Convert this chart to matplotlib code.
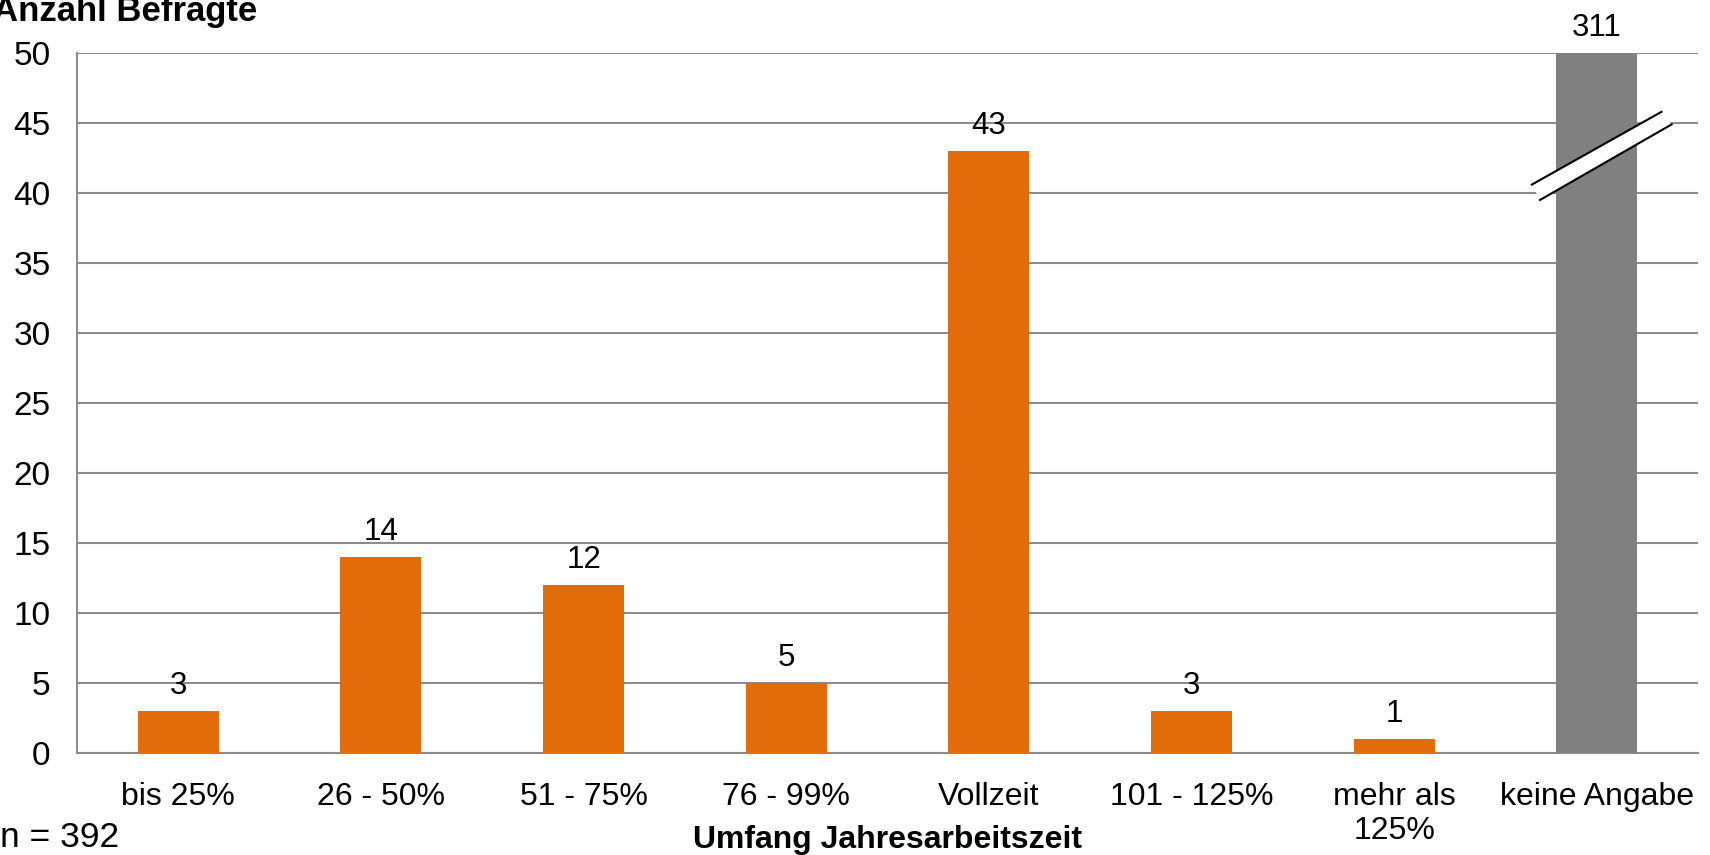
import matplotlib
matplotlib.use("Agg")
import matplotlib.pyplot as plt
import numpy as np

# data
categories = ["bis 25%", "26 - 50%", "51 - 75%", "76 - 99%", "Vollzeit",
              "101 - 125%", "mehr als\n125%", "keine Angabe"]
counts = [3, 14, 12, 5, 43, 3, 1, 311]
colors = ["#E36C0A"] * 7 + ["#808080"]

YMAX = 50

plt.rcParams['font.family'] = ['Liberation Sans', 'DejaVu Sans']

fig = plt.figure(figsize=(17.1, 8.55), dpi=100)
ax = fig.add_axes([77 / 1710, 1 - 753 / 855, (1698 - 77) / 1710, (753 - 53) / 855])

x = np.arange(len(categories))
shown = [min(c, YMAX) for c in counts]
ax.bar(x, shown, width=0.4, color=colors, zorder=3)

#value labels above the bars
for xi, c, s in zip(x, counts, shown):
    ax.annotate(str(c), (xi, s), xytext=(0, 7), textcoords="offset points",
                ha="center", va="bottom", fontsize=22.5, annotation_clip=False)

#break marks on the clipped bar
last = len(categories) - 1
ax.fill([last - 0.32, last + 0.32, last + 0.37, last - 0.28],
        [40.6, 45.8, 44.9, 39.5], color="white", zorder=4, lw=0, clip_on=False)
ax.plot([last - 0.32, last + 0.32], [40.6, 45.8], color="black", lw=1.5, zorder=5, clip_on=False)
ax.plot([last - 0.28, last + 0.37], [39.5, 44.9], color="black", lw=1.5, zorder=5, clip_on=False)

ax.set_xlim(-0.5, len(categories) - 0.5)
ax.set_ylim(0, YMAX)
ax.set_yticks(range(0, 51, 5))
ax.set_xticks(x)
ax.set_xticklabels(categories, fontsize=23, linespacing=1.15)
ax.tick_params(axis="y", labelsize=24, length=0, pad=19)
ax.tick_params(axis="x", length=0, pad=21)
ax.yaxis.grid(True, color="#8C8C8C", lw=1.5, zorder=0)
ax.set_axisbelow(True)

for side in ["top", "right"]:
    ax.spines[side].set_visible(False)
for side in ["left", "bottom"]:
    ax.spines[side].set_color("#8C8C8C")
    ax.spines[side].set_linewidth(1.5)

fig.text(-0.004, 0.976, "Anzahl Befragte", fontsize=25, fontweight="bold",
         ha="left", va="baseline")
fig.text(0.519, 0.018, "Umfang Jahresarbeitszeit", fontsize=23, fontweight="bold",
         ha="center", va="center")
fig.text(0.0, 0.02, "n = 392", fontsize=25.5, ha="left", va="center")

fig.savefig("out.png", dpi=100)
